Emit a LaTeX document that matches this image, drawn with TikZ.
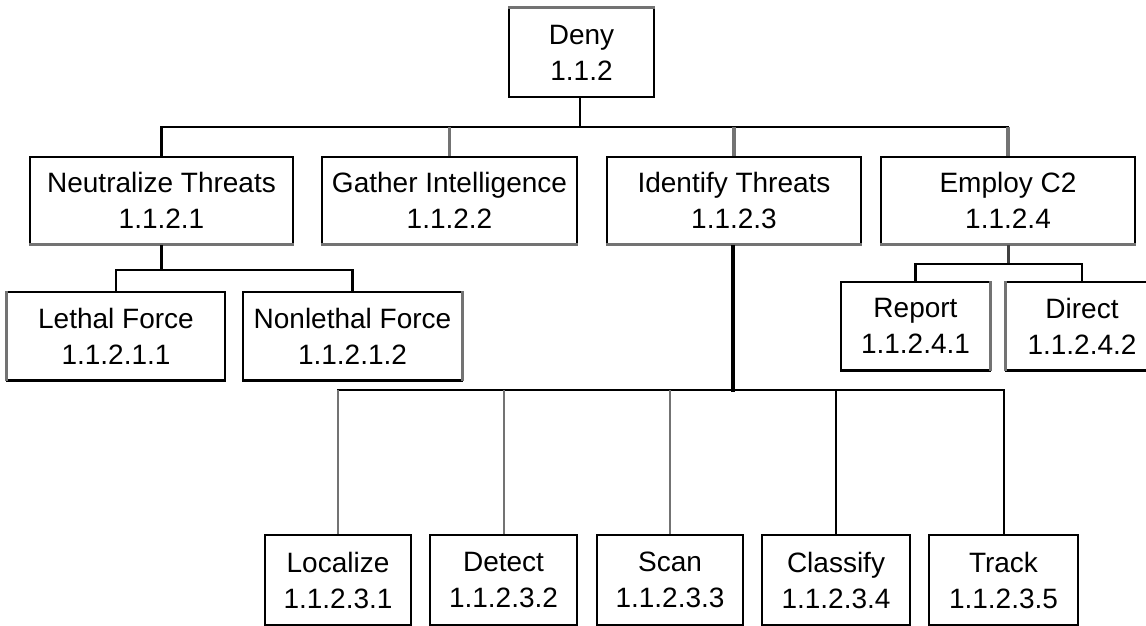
\documentclass[tikz,border=0pt]{standalone}
\usepackage{fontspec}
\setmainfont{Liberation Sans}
\begin{document}
\begin{tikzpicture}[x=1pt,y=-1pt,
  box/.style={draw=black, line width=1.6pt, fill=white, align=center, inner sep=0pt,
    font=\fontsize{28}{36}\selectfont},
  lvl0/.style={box, minimum width=145pt, minimum height=89pt},
  lvl1/.style={box, minimum width=254pt, minimum height=87pt},
  lvl2/.style={box, minimum height=88pt},
  lvl3/.style={box, minimum height=90pt},
  conn/.style={draw=black, line width=2.6pt},
  gconn/.style={draw=black!55, line width=3.2pt},
  dconn/.style={draw=black!75, line width=3pt},
  thinconn/.style={draw=black, line width=2pt},
  gthin/.style={draw=black!55, line width=2pt},
  trunk/.style={draw=black, line width=4.5pt},
  grayedge/.style={draw=black!55, line width=3pt},
  blackedge/.style={draw=black, line width=3pt}]
\useasboundingbox (0,0) rectangle (1146,626);

% nodes
\node[lvl0] (deny) at (581.5,52.5) {Deny\\1.1.2};
\node[lvl1, minimum width=263pt] (neut) at (161.5,200.5) {Neutralize Threats\\1.1.2.1};
\node[lvl1, minimum width=255pt] (gath) at (449.5,200.5) {Gather Intelligence\\1.1.2.2};
\node[lvl1] (iden) at (734,200.5) {Identify Threats\\1.1.2.3};
\node[lvl1] (empl) at (1008,200.5) {Employ C2\\1.1.2.4};
\node[lvl2, minimum width=218pt] (leth) at (116,336) {Lethal Force\\1.1.2.1.1};
\node[lvl2, minimum width=219pt] (nonl) at (352.5,336) {Nonlethal Force\\1.1.2.1.2};
\node[lvl2, minimum width=149pt] (repo) at (915.5,326) {Report\\1.1.2.4.1};
\node[lvl2, minimum width=152pt] (dire) at (1082,326) {Direct\\1.1.2.4.2};
\node[lvl3, minimum width=146pt] (loca) at (338,580) {Localize\\1.1.2.3.1};
\node[lvl3, minimum width=147pt] (dete) at (503.5,580) {Detect\\1.1.2.3.2};
\node[lvl3, minimum width=146pt] (scan) at (670,580) {Scan\\1.1.2.3.3};
\node[lvl3, minimum width=148pt] (clas) at (836,580) {Classify\\1.1.2.3.4};
\node[lvl3, minimum width=149pt] (trac) at (1003.5,580) {Track\\1.1.2.3.5};

% box edge shading
\draw[grayedge] (deny.north west) -- (deny.north east);
\foreach \n in {neut,gath,iden,empl}
  \draw[grayedge] (\n.south west) -- (\n.south east);
\foreach \n in {leth,nonl,repo,dire,loca,dete,scan,clas,trac}
  \draw[blackedge] (\n.south west) -- (\n.south east);
\draw[grayedge] (leth.south west) -- (leth.north west);
\draw[grayedge] (nonl.south east) -- (nonl.north east);
\draw[grayedge] (repo.south east) -- (repo.north east);
\draw[grayedge] (dire.south west) -- (dire.north west);

% level 0 -> level 1
\coordinate (b0) at (580,127);
\draw[conn] (deny.south -| b0) -- (b0);
\draw[conn] (neut.north) |- (b0) -| (empl.north);
\draw[gconn] (gath.north) -- (gath.north |- b0);
\draw[gconn] (iden.north) -- (iden.north |- b0);
\draw[gconn] (empl.north) -- (empl.north |- b0);

% Neutralize Threats children
\coordinate (b1) at (161.5,270);
\draw[conn] (neut.south) -- (b1);
\draw[conn] (leth.north) |- (b1) -| (nonl.north);

% Employ C2 children
\coordinate (b2) at (1008,264);
\draw[dconn] (empl.south) -- (b2);
\draw[conn] (repo.north) |- (b2) -| (dire.north);

% Identify Threats children
\coordinate (b3) at (733,390);
\draw[thinconn] (loca.north) |- (b3) -| (trac.north);
\draw[gthin] (loca.north) -- (loca.north |- b3);
\draw[gthin] (dete.north) -- (dete.north |- b3);
\draw[gthin] (scan.north) -- (scan.north |- b3);
\draw[thinconn] (clas.north) -- (clas.north |- b3);
\draw[trunk] (iden.south -| b3) -- ([yshift=-2pt]b3);
\end{tikzpicture}
\end{document}
